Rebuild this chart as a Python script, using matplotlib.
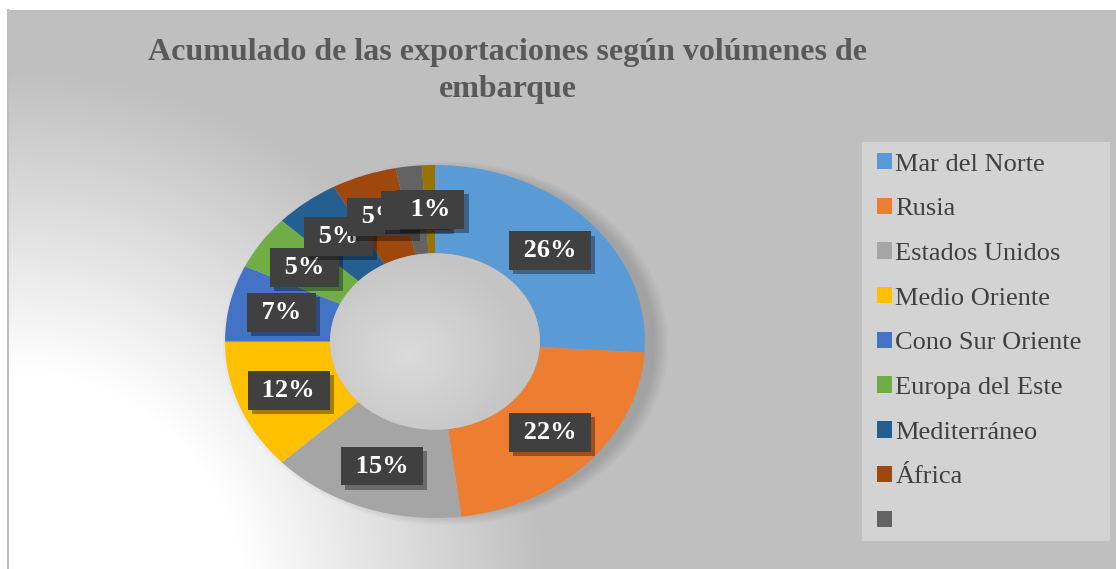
import matplotlib.pyplot as plt
import matplotlib.patheffects as pe
from matplotlib.patches import Ellipse, Rectangle
import numpy as np

plt.rcParams['font.family'] = ['Liberation Serif', 'DejaVu Serif']

# share of shipments by destination (percent)
regions = ['Mar del Norte', 'Rusia', 'Estados Unidos', 'Medio Oriente',
           'Cono Sur Oriente', 'Europa del Este', 'Mediterráneo', 'África', '', '']
shares = [26, 22, 15, 12, 7, 5, 5, 5, 2, 1]
colors = ['#5B9BD5', '#ED7D31', '#A5A5A5', '#FFC000', '#4472C4',
          '#70AD47', '#255E91', '#9E480E', '#636363', '#997300']

W, H = 1116, 569
fig = plt.figure(figsize=(W / 100, H / 100), dpi=100)

# background: gray chart area with a white glow from the lower left
bg = fig.add_axes([7 / W, 0, (W - 7) / W, (H - 10) / H], zorder=0)
yy, xx = np.mgrid[0:H - 10, 0:W - 7]
d = np.hypot(xx - 0, (H + 30) - yy)
t = np.clip((d - 240) / 300, 0, 1)
g = 1.0 - (1.0 - 0.75) * t
bg.imshow(np.dstack([g, g, g]), aspect='auto', extent=[0, 1, 0, 1], origin='upper')
bg.set_xlim(0, 1)
bg.set_ylim(0, 1)
bg.axis('off')
fig.add_artist(plt.Line2D([7.5 / W, 7.5 / W], [0, (H - 10) / H], color='#bfbfbf', lw=1.5))

# donut axes sized to the ellipse in the reference
ax = fig.add_axes([225 / W, (H - 518) / H, 420 / W, 353 / H], zorder=2)
ax.set_aspect('auto')

# soft shadow behind the ring, mostly on the right
for k in range(6):
    ax.add_patch(Ellipse((0.05, -0.01), 2 * (1.0 + 0.012 * k), 2 * (0.98 + 0.01 * k),
                         fc='black', ec='none', alpha=0.025, zorder=0, clip_on=False))

wedges, _ = ax.pie(shares, colors=colors, startangle=90, counterclock=False,
                   radius=1, wedgeprops=dict(width=0.5, edgecolor='none'))

# lighter hole
hy, hx = np.mgrid[-1:1:200j, -1:1:200j]
hole = np.clip(0.86 - 0.08 * np.hypot(hx + 0.25, hy + 0.15), 0.77, 0.86)
im = ax.imshow(np.dstack([hole, hole, hole]), extent=[-0.5, 0.5, -0.5, 0.5],
               origin='lower', aspect='auto', zorder=1)
im.set_clip_path(Ellipse((0, 0), 1.0, 1.0, transform=ax.transData))

ax.set_xlim(-1, 1)
ax.set_ylim(-1, 1)
ax.axis('off')

total = sum(shares)
cum = 0
for v in shares:
    mid = np.deg2rad(90 - (cum + v / 2) / total * 360)
    cum += v
    tx = ax.text(0.75 * np.cos(mid), 0.75 * np.sin(mid), f' {v}% ',
                 ha='center', va='center', fontsize=19, fontweight='bold',
                 color='white', zorder=5,
                 bbox=dict(boxstyle='square,pad=0.3', fc='#404040', ec='none'))
    tx.get_bbox_patch().set_path_effects(
        [pe.withSimplePatchShadow(offset=(3, -3), shadow_rgbFace='black', alpha=0.35), pe.Normal()])

fig.text(508 / W, 1 - 71 / H, 'Acumulado de las exportaciones según volúmenes de\nembarque',
         ha='center', va='center', fontsize=23, fontweight='bold', color='#595959',
         linespacing=1.35)

# legend box
fig.add_artist(Rectangle((862 / W, 1 - 541 / H), 248 / W, 399 / H,
                         transform=fig.transFigure, fc='#d3d3d3', ec='none', zorder=1))
leg = fig.legend(wedges[:9], regions[:9], loc='upper left',
                 bbox_to_anchor=(877 / W, 1 - 153 / H),
                 frameon=False, fontsize=19, labelcolor='#404040',
                 handlelength=0.58, handleheight=0.58, handletextpad=0.12,
                 labelspacing=0.84, borderpad=0, borderaxespad=0)
leg.set_zorder(3)

fig.savefig('out.png', dpi=100)
